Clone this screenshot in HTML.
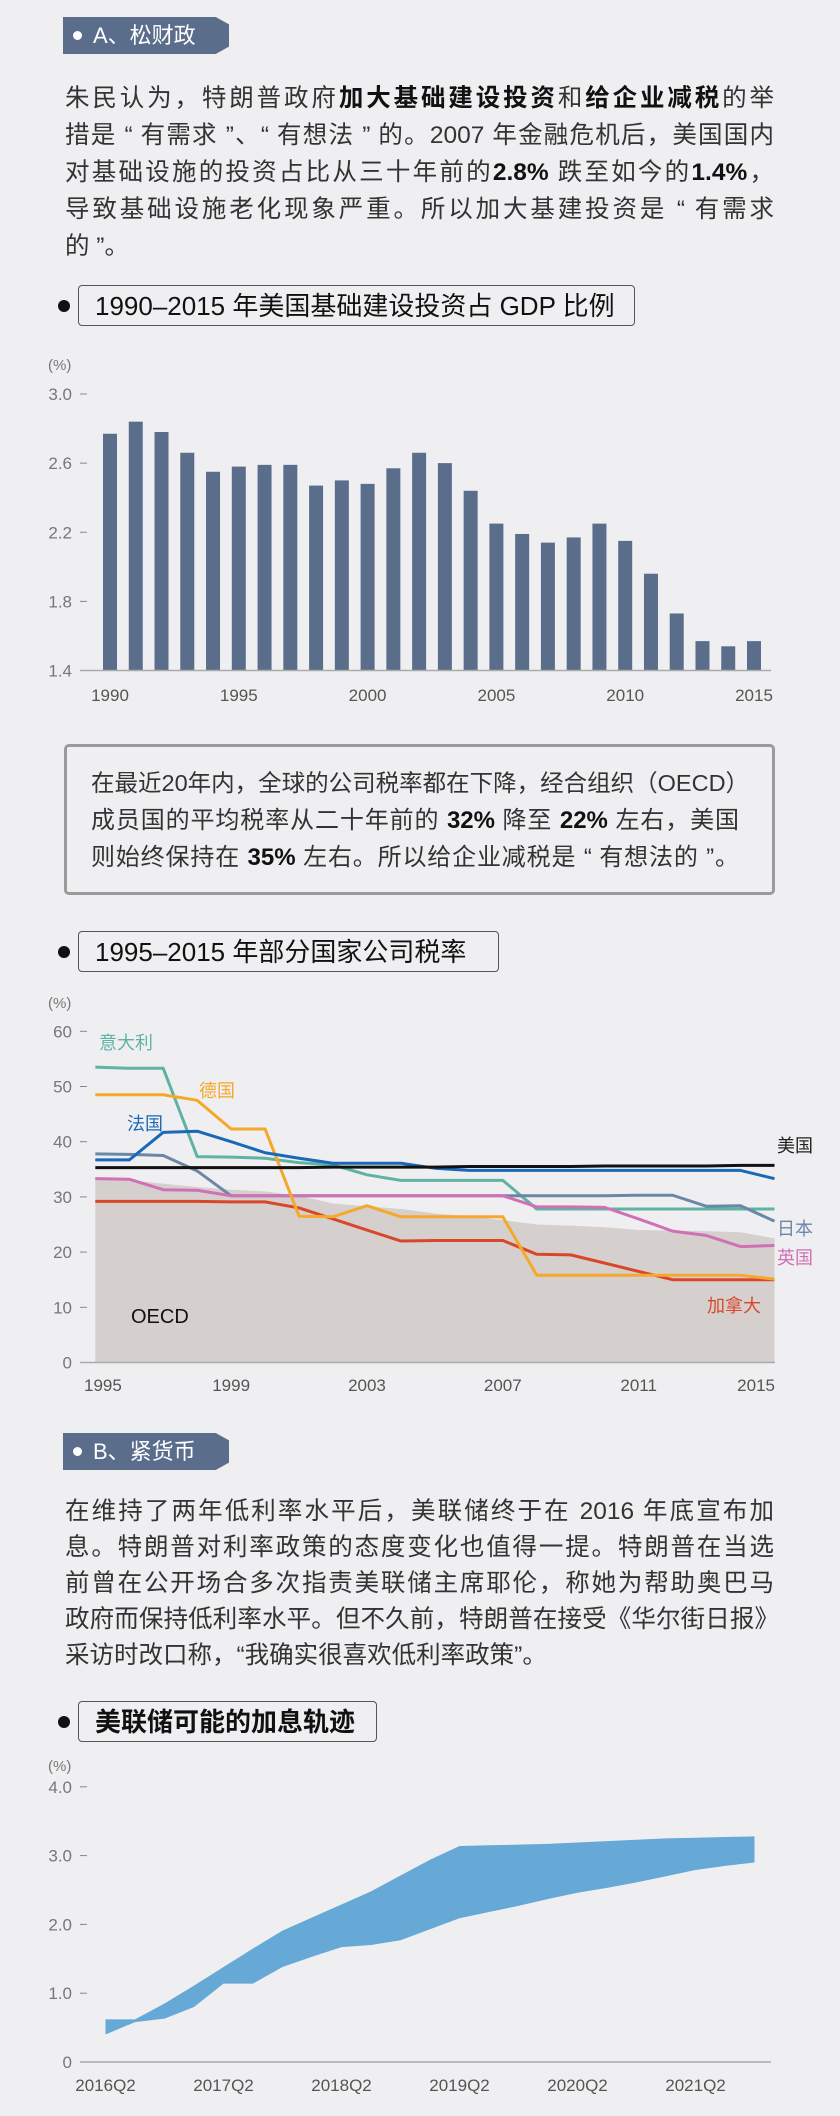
<!DOCTYPE html>
<html><head><meta charset="utf-8">
<style>
html,body{margin:0;padding:0}
body{width:840px;height:2116px;background:#efeff1;position:relative;overflow:hidden;font-family:"Liberation Sans","Noto Sans CJK SC",sans-serif;color:#333}
.tag{position:absolute;left:63px;width:166px;height:37px;background:#5a6e8c;color:#fff;font-size:22px;line-height:37px;clip-path:polygon(0 0,92% 0,100% 20%,100% 80%,92% 100%,0 100%)}
.tag .dot{position:absolute;left:10px;top:14px;width:9px;height:9px;border-radius:50%;background:#fff}
.tag span.t{position:absolute;left:30px;top:0}
.para{position:absolute;left:65px;width:709px;font-size:24.5px;line-height:37px;color:#333;white-space:nowrap}
.para b{color:#111}
.para .j{display:block;text-align:justify;text-align-last:justify;white-space:normal}
.para .l{display:block}
.ttl{position:absolute;left:78px;height:41px;border:1.5px solid #555;border-radius:4px;font-size:26px;line-height:41px;color:#111;padding-left:16px;box-sizing:border-box;white-space:nowrap}
.bul{position:absolute;left:58px;width:12px;height:12px;border-radius:50%;background:#111}
.callout{position:absolute;left:64px;top:744px;width:711px;height:151px;border:3px solid #9a9a9a;border-radius:5px;box-sizing:border-box}
svg{position:absolute;left:0;overflow:visible}
svg text{font-family:"Liberation Sans","Noto Sans CJK SC",sans-serif}
</style></head><body>

<div class="tag" style="top:17px"><div class="dot"></div><span class="t">A、松财政</span></div>
<div class="para" style="top:80px"><span class="j">朱民认为，特朗普政府<b>加大基础建设投资</b>和<b>给企业减税</b>的举</span><span class="j">措是 “ 有需求 ”、“ 有想法 ” 的。2007 年金融危机后，美国国内</span><span class="j">对基础设施的投资占比从三十年前的<b>2.8%</b> 跌至如今的<b>1.4%</b>，</span><span class="j">导致基础设施老化现象严重。所以加大基建投资是 “ 有需求</span><span class="l">的 ”。</span></div>

<div class="bul" style="top:300px"></div>
<div class="ttl" style="top:285px;width:557px">1990–2015 年美国基础建设投资占 GDP 比例</div>
<svg id="c1" width="840" height="720" style="top:0"></svg>

<div class="callout"></div>
<div class="para" style="left:91px;top:765px;width:648px;font-size:24px"><span class="l" style="font-size:23.5px">在最近20年内，全球的公司税率都在下降，经合组织（OECD）</span><span class="j">成员国的平均税率从二十年前的 <b>32%</b> 降至 <b>22%</b> 左右，美国</span><span class="j">则始终保持在 <b>35%</b> 左右。所以给企业减税是 “ 有想法的 ”。</span></div>

<div class="bul" style="top:946px"></div>
<div class="ttl" style="top:931px;width:421px">1995–2015 年部分国家公司税率</div>
<svg id="c2" width="840" height="1420" style="top:0"></svg>

<div class="tag" style="top:1433px"><div class="dot"></div><span class="t">B、紧货币</span></div>
<div class="para" style="top:1494px;line-height:36px"><span class="j">在维持了两年低利率水平后，美联储终于在 2016 年底宣布加</span><span class="j">息。特朗普对利率政策的态度变化也值得一提。特朗普在当选</span><span class="j">前曾在公开场合多次指责美联储主席耶伦，称她为帮助奥巴马</span><span class="j" style="width:714px">政府而保持低利率水平。但不久前，特朗普在接受《华尔街日报》</span><span class="l">采访时改口称，“我确实很喜欢低利率政策”。</span></div>

<div class="bul" style="top:1716px"></div>
<div class="ttl" style="top:1701px;width:299px;font-weight:bold">美联储可能的加息轨迹</div>
<svg id="c3" width="840" height="2116" style="top:0"></svg>

<script>
var NS="http://www.w3.org/2000/svg";
function mk(svg,tag,attrs,txt){var e=document.createElementNS(NS,tag);for(var k in attrs)e.setAttribute(k,attrs[k]);if(txt!==undefined)e.textContent=txt;svg.appendChild(e);return e;}

/* ---------- Chart 1 data ---------- */
var c1Years=[1990,1991,1992,1993,1994,1995,1996,1997,1998,1999,2000,2001,2002,2003,2004,2005,2006,2007,2008,2009,2010,2011,2012,2013,2014,2015];
var c1Values=[2.77,2.84,2.78,2.66,2.55,2.58,2.59,2.59,2.47,2.50,2.48,2.57,2.66,2.60,2.44,2.25,2.19,2.14,2.17,2.25,2.15,1.96,1.73,1.57,1.54,1.57];
var c1YTicks=[1.4,1.8,2.2,2.6,3.0];
var c1YLabels=["1.4","1.8","2.2","2.6","3.0"];
var c1XLabels=[1990,1995,2000,2005,2010,2015];

(function(){
var s=document.getElementById('c1');
function x(yr){return 110+(yr-1990)*25.76;}
function y(v){return 670.5-(v-1.4)/1.6*276.5;}
var t=mk(s,'text',{x:48,y:370,'font-size':15,fill:'#777'},'(%)');


c1YTicks.forEach(function(v,i){
 var l=mk(s,'text',{x:72,y:y(v)+6,'font-size':17,fill:'#777','text-anchor':'end'},c1YLabels[i]);
 
 
 mk(s,'line',{x1:80,x2:87,y1:y(v),y2:y(v),stroke:'#888','stroke-width':1});
});
c1Years.forEach(function(yr,i){
 var b=mk(s,'rect',{x:x(yr)-7,y:y(c1Values[i]),width:14,height:y(1.4)-y(c1Values[i]),fill:'#5a6e8c'});
 
 
});
var a=mk(s,'line',{x1:80,x2:771,y1:670.5,y2:670.5,stroke:'#aaa','stroke-width':1.5});


c1XLabels.forEach(function(yr){
 var l=mk(s,'text',{x:x(yr),y:701,'font-size':17,fill:'#555','text-anchor':'middle'},yr);
 
 
});
})();

/* ---------- Chart 2 data ---------- */
var c2Years=[1995,1996,1997,1998,1999,2000,2001,2002,2003,2004,2005,2006,2007,2008,2009,2010,2011,2012,2013,2014,2015];
var oecd=[33.5,33.0,32.4,31.8,31.3,31.0,30.2,28.8,28.3,27.8,27.0,26.5,25.8,25.0,24.8,24.5,24.0,23.9,23.8,23.6,22.5];
var italy=[53.5,53.3,53.3,37.3,37.2,37.0,36.2,35.8,34.0,33.0,33.0,33.0,33.0,27.8,27.8,27.8,27.8,27.8,27.8,27.8,27.8];
var germany=[48.5,48.5,48.5,47.5,42.3,42.3,26.5,26.4,28.4,26.4,26.4,26.4,26.4,15.8,15.8,15.8,15.8,15.8,15.8,15.8,15.1];
var france=[36.7,36.7,41.7,41.9,40.0,38.0,37.0,36.1,36.1,36.1,35.2,34.8,34.8,34.8,34.8,34.8,34.8,34.8,34.8,34.8,33.3];
var usa=[35.3,35.3,35.3,35.3,35.3,35.3,35.3,35.4,35.4,35.4,35.4,35.5,35.5,35.5,35.5,35.6,35.6,35.6,35.6,35.7,35.7];
var japan=[37.8,37.7,37.5,34.7,30.2,30.2,30.2,30.2,30.2,30.2,30.2,30.2,30.2,30.2,30.2,30.2,30.3,30.3,28.3,28.4,25.6];
var uk=[33.3,33.2,31.3,31.2,30.2,30.2,30.2,30.2,30.2,30.2,30.2,30.2,30.2,28.2,28.2,28.1,26.0,23.8,23.0,21.0,21.2];
var canada=[29.2,29.2,29.2,29.2,29.1,29.1,28.0,26.0,24.0,22.0,22.1,22.1,22.1,19.6,19.5,18.0,16.5,15.0,15.0,15.0,15.0];
var c2YTicks=[0,10,20,30,40,50,60];
var c2XLabels=[1995,1999,2003,2007,2011,2015];

(function(){
var s=document.getElementById('c2');
function x(yr){return 95.3+(yr-1995)*33.96;}
function y(v){return 1362.5-v*5.52;}
var t=mk(s,'text',{x:48,y:1008,'font-size':15,fill:'#777'},'(%)');


c2YTicks.forEach(function(v){
 var l=mk(s,'text',{x:72,y:y(v)+6,'font-size':17,fill:'#777','text-anchor':'end'},v);
 
 
 mk(s,'line',{x1:80,x2:87,y1:y(v),y2:y(v),stroke:'#888','stroke-width':1});
});
var d='M'+x(c2Years[0])+','+y(0);
c2Years.forEach(function(yr,i){d+=' L'+x(yr)+','+y(oecd[i]);});
d+=' L'+x(c2Years[c2Years.length-1])+','+y(0)+' Z';
var ar=mk(s,'path',{d:d,fill:'#d5d0ce'});


var series=[['italy',italy,'#5fb3a5'],['japan',japan,'#6b87a8'],['uk',uk,'#d070b5'],['canada',canada,'#d9472b'],['germany',germany,'#f5a82a'],['france',france,'#1a68b8'],['usa',usa,'#111']];
series.forEach(function(sr){
 var pts=c2Years.map(function(yr,i){return x(yr)+','+y(sr[1][i]);}).join(' ');
 var p=mk(s,'polyline',{points:pts,fill:'none',stroke:sr[2],'stroke-width':3,'stroke-linejoin':'round'});
 
 
});
var ax=mk(s,'line',{x1:80,x2:775,y1:1362.5,y2:1362.5,stroke:'#aaa','stroke-width':1.5});


c2XLabels.forEach(function(yr,i){
 var anc='middle',xx=x(yr);
 if(i==0){anc='start';xx=84;} if(i==c2XLabels.length-1){anc='end';xx=775;}
 var l=mk(s,'text',{x:xx,y:1391,'font-size':17,fill:'#555','text-anchor':anc},yr);
 
 
});
var labs=[['意大利',99,1049,'#5fb3a5','start'],['德国',199,1097,'#f5a82a','start'],['法国',127,1130,'#1a68b8','start'],['美国',777,1152,'#222','start'],['日本',777,1235,'#6b87a8','start'],['英国',777,1264,'#d070b5','start'],['加拿大',707,1312,'#d9472b','start'],['OECD',131,1323,'#111','start']];
labs.forEach(function(L){
 var l=mk(s,'text',{x:L[1],y:L[2],'font-size':L[0]=='OECD'?20:18,fill:L[3],'text-anchor':L[4]},L[0]);
 
 
});
})();

/* ---------- Chart 3 data ---------- */
var c3Quarters=['2016Q2','2016Q3','2016Q4','2017Q1','2017Q2','2017Q3','2017Q4','2018Q1','2018Q2','2018Q3','2018Q4','2019Q1','2019Q2','2019Q3','2019Q4','2020Q1','2020Q2','2020Q3','2020Q4','2021Q1','2021Q2','2021Q3','2021Q4'];
var c3Upper=[0.62,0.62,0.85,1.11,1.38,1.65,1.91,2.10,2.29,2.48,2.71,2.94,3.14,3.15,3.16,3.17,3.19,3.21,3.23,3.25,3.26,3.27,3.28];
var c3Lower=[0.40,0.58,0.63,0.80,1.14,1.14,1.38,1.53,1.67,1.70,1.77,1.93,2.09,2.18,2.27,2.37,2.46,2.53,2.61,2.70,2.79,2.85,2.90];
var c3YTicks=[0,1,2,3,4];
var c3YLabels=['0','1.0','2.0','3.0','4.0'];
var c3XLabels=['2016Q2','2017Q2','2018Q2','2019Q2','2020Q2','2021Q2'];

(function(){
var s=document.getElementById('c3');
function x(q){return 105.5+c3Quarters.indexOf(q)*29.5;}
function y(v){return 2062-v*68.8;}
var t=mk(s,'text',{x:48,y:1771,'font-size':15,fill:'#777'},'(%)');


c3YTicks.forEach(function(v,i){
 var l=mk(s,'text',{x:72,y:y(v)+6,'font-size':17,fill:'#777','text-anchor':'end'},c3YLabels[i]);
 
 
 mk(s,'line',{x1:80,x2:87,y1:y(v),y2:y(v),stroke:'#888','stroke-width':1});
});
var d='';
c3Quarters.forEach(function(q,i){d+=(i?' L':'M')+x(q)+','+y(c3Upper[i]);});
for(var i=c3Quarters.length-1;i>=0;i--){d+=' L'+x(c3Quarters[i])+','+y(c3Lower[i]);}
d+=' Z';
var b=mk(s,'path',{d:d,fill:'#66a8d6'});


var ax=mk(s,'line',{x1:80,x2:771,y1:2062,y2:2062,stroke:'#aaa','stroke-width':1.5});


c3XLabels.forEach(function(q){
 var l=mk(s,'text',{x:x(q),y:2091,'font-size':17,fill:'#555','text-anchor':'middle'},q);
 
 
});
})();
</script>
</body></html>
